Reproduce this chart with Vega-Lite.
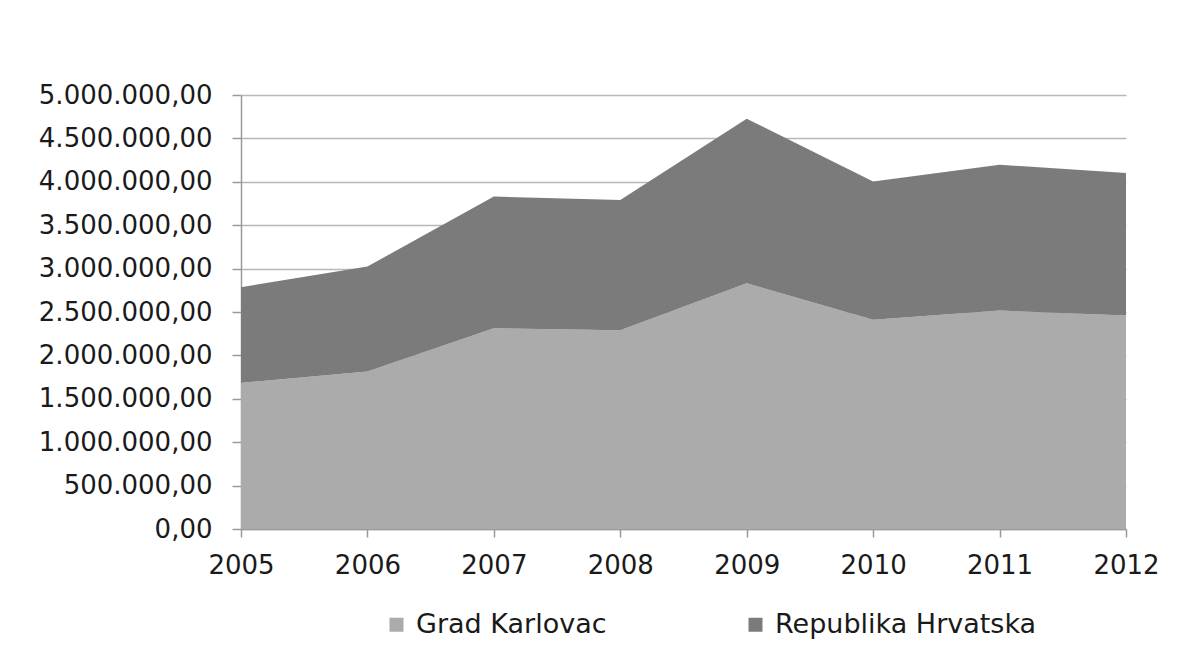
{
  "$schema": "https://vega.github.io/schema/vega-lite/v6.json",
  "width": 885,
  "height": 434,
  "autosize": {"type": "none"},
  "padding": {"left": 241, "top": 95, "right": 64, "bottom": 123},
  "background": "white",
  "config": {
    "locale": {"number": {"decimal": ",", "thousands": ".", "grouping": [3], "currency": ["", ""]}},
    "view": {"stroke": null},
    "font": "DejaVu Sans",
    "axis": {"domainColor": "#9a9a9a", "tickColor": "#9a9a9a", "gridColor": "#b8b8b8", "gridWidth": 1.5, "domainWidth": 1.5, "tickWidth": 1.5, "labelColor": "#1a1a1a", "labelFont": "DejaVu Sans", "labelFontSize": 26, "titleFontSize": 0}
  },
  "data": {
    "values": [
      {"year": "2005", "series": "Grad Karlovac", "value": 1684000},
      {"year": "2006", "series": "Grad Karlovac", "value": 1815000},
      {"year": "2007", "series": "Grad Karlovac", "value": 2313000},
      {"year": "2008", "series": "Grad Karlovac", "value": 2290000},
      {"year": "2009", "series": "Grad Karlovac", "value": 2830000},
      {"year": "2010", "series": "Grad Karlovac", "value": 2410000},
      {"year": "2011", "series": "Grad Karlovac", "value": 2517000},
      {"year": "2012", "series": "Grad Karlovac", "value": 2460000},
      {"year": "2005", "series": "Republika Hrvatska", "value": 1102000},
      {"year": "2006", "series": "Republika Hrvatska", "value": 1209000},
      {"year": "2007", "series": "Republika Hrvatska", "value": 1517000},
      {"year": "2008", "series": "Republika Hrvatska", "value": 1500000},
      {"year": "2009", "series": "Republika Hrvatska", "value": 1896000},
      {"year": "2010", "series": "Republika Hrvatska", "value": 1593000},
      {"year": "2011", "series": "Republika Hrvatska", "value": 1679000},
      {"year": "2012", "series": "Republika Hrvatska", "value": 1640000}
    ]
  },
  "mark": {"type": "area", "interpolate": "linear"},
  "encoding": {
    "x": {
      "field": "year", "type": "ordinal",
      "scale": {"type": "point", "padding": 0},
      "axis": {"title": null, "labelAngle": 0, "grid": false, "tickSize": 8, "labelPadding": 15}
    },
    "y": {
      "field": "value", "type": "quantitative", "stack": "zero",
      "scale": {"domain": [0, 5000000], "nice": false},
      "axis": {"title": null, "format": ",.2f", "values": [0, 500000, 1000000, 1500000, 2000000, 2500000, 3000000, 3500000, 4000000, 4500000, 5000000], "tickSize": 9, "labelPadding": 20, "grid": true, "labelLimit": 0}
    },
    "color": {
      "field": "series", "type": "nominal",
      "scale": {"domain": ["Grad Karlovac", "Republika Hrvatska"], "range": ["#ababab", "#7b7b7b"]},
      "legend": {
        "title": null, "orient": "none", "direction": "horizontal", "legendX": 142, "legendY": 516,
        "symbolType": "square", "symbolSize": 196, "symbolStrokeWidth": 0, "symbolOpacity": 1,
        "labelFontSize": 27, "labelColor": "#1a1a1a", "labelFont": "DejaVu Sans", "labelOffset": 6, "labelLimit": 0, "columnPadding": 135
      }
    },
    "order": {"field": "series", "sort": "ascending"}
  }
}
